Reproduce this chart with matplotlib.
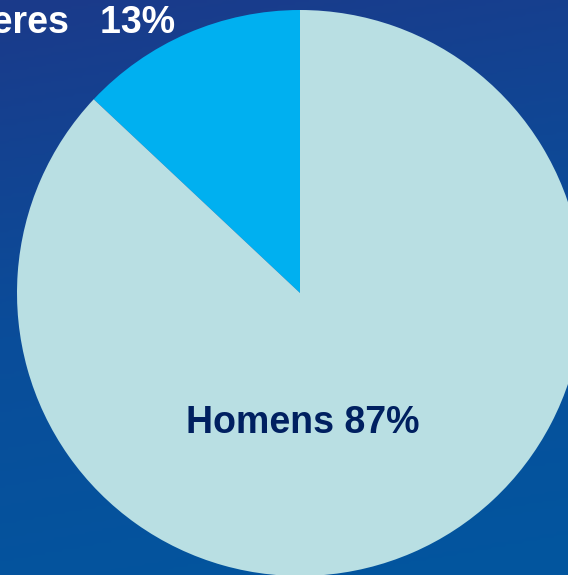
import numpy as np
import matplotlib
matplotlib.use("Agg")
import matplotlib.pyplot as plt
from matplotlib.colors import LinearSegmentedColormap

labels = ["Mulheres", "Homens"]
shares = [13, 87]
colors = ["#00b0f0", "#b9dfe3"]

W, H = 568, 575
fig = plt.figure(figsize=(W / 100, H / 100), dpi=100)
ax = fig.add_axes([0, 0, 1, 1])
ax.set_xlim(0, W)
ax.set_ylim(0, H)
ax.set_aspect("equal")
ax.axis("off")

# background gradient (dark navy at top -> brighter blue at bottom)
bg = LinearSegmentedColormap.from_list("bg", ["#1b3a8a", "#0a4d9a", "#02569f"])
yy, xx = np.mgrid[0:1:200j, 0:1:200j]
grad = np.clip(yy * 0.85 + xx * 0.15, 0, 1)
ax.imshow(grad, cmap=bg, extent=[0, W, 0, H], origin="upper", aspect="auto", zorder=0)

ax.pie(shares, colors=colors, startangle=90, counterclock=True,
       center=(300, H - 293), radius=283, frame=True,
       wedgeprops=dict(linewidth=0, zorder=1))
ax.set_xlim(0, W)
ax.set_ylim(0, H)
ax.axis("off")

# label for the small slice runs off the left edge, as in the original
ax.text(175, H - 33, f"{labels[0]}   {shares[0]}%", ha="right", va="baseline",
        fontsize=27, fontweight="bold", color="white", family="Liberation Sans", zorder=3)
ax.text(303, H - 433, f"{labels[1]} {shares[1]}%", ha="center", va="baseline",
        fontsize=27, fontweight="bold", color="#002060", family="Liberation Sans", zorder=3)

fig.savefig("out.png", dpi=100)
